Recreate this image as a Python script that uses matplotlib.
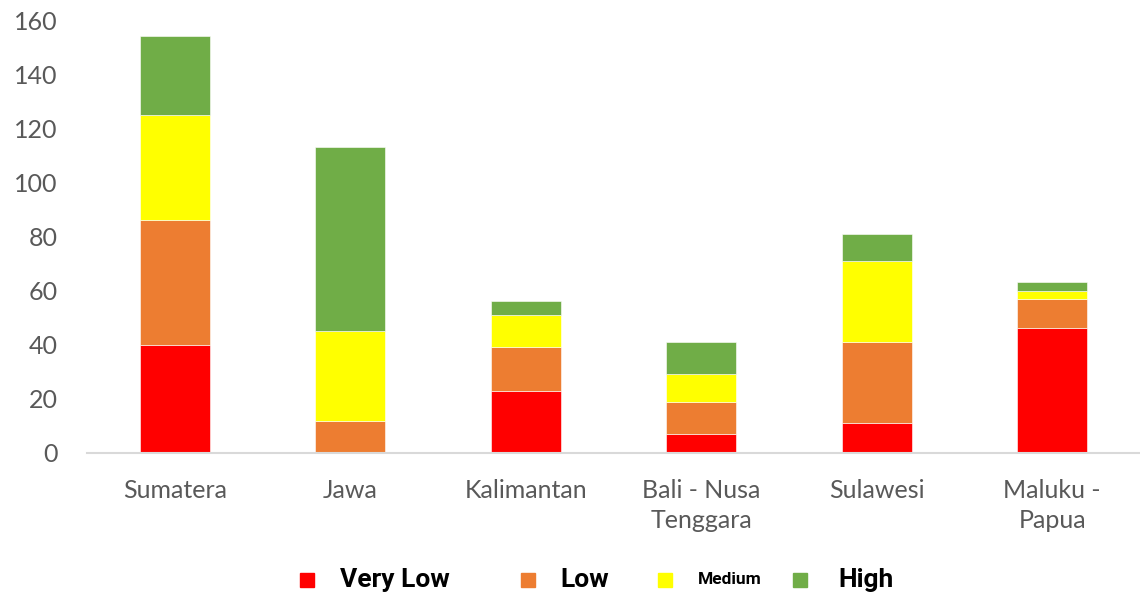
import numpy as np
import matplotlib.pyplot as plt
from matplotlib.patches import Rectangle

# Data
regions = ["Sumatera", "Jawa", "Kalimantan", "Bali - Nusa\nTenggara", "Sulawesi", "Maluku -\nPapua"]
very_low = [40, 0, 23, 7, 11, 46]
low = [46, 12, 16, 12, 30, 11]
medium = [39, 33, 12, 10, 30, 3]
high = [29, 68, 5, 12, 10, 3]

series = [("Very Low", very_low, "#FF0000", 19),
          ("Low", low, "#ED7D31", 19),
          ("Medium", medium, "#FFFF00", 12.5),
          ("High", high, "#70AD47", 19)]

tick_font = "Lato"
legend_font = ["Roboto", "DejaVu Sans"]

fig = plt.figure(figsize=(11.4, 6.01), dpi=100)
ax = fig.add_axes([0.0763, 0.2463, 0.9237, 0.7204])

x = np.arange(len(regions))
bottom = np.zeros(len(regions))
for name, vals, col, _ in series:
    ax.bar(x, vals, width=0.4, bottom=bottom, color=col,
           edgecolor="white", linewidth=0.4)
    bottom += np.array(vals)

ax.set_xlim(-0.5, len(regions) - 0.5)
ax.set_ylim(0, 160)
ax.set_yticks(np.arange(0, 161, 20))
ax.set_xticks(x)
ax.set_xticklabels(regions)

for s in ["top", "right", "left"]:
    ax.spines[s].set_visible(False)
ax.spines["bottom"].set_color("#d9d9d9")
ax.spines["bottom"].set_linewidth(1.5)

ax.tick_params(axis="both", length=0, colors="#595959", labelsize=18)
ax.tick_params(axis="y", pad=21)
ax.tick_params(axis="x", pad=19)
for lab in ax.get_xticklabels() + ax.get_yticklabels():
    lab.set_fontfamily(tick_font)
    lab.set_linespacing(1.35)

# legend, drawn by hand because each entry has its own text size
legend_x = [300, 521, 658, 793]
text_x = [340, 560, 698, 838]
ly = 580
for (name, _, col, fs), mx, tx in zip(series, legend_x, text_x):
    fig.patches.append(Rectangle((mx / 1140, (601 - ly - 7) / 601), 14 / 1140, 14 / 601,
                                 transform=fig.transFigure, color=col))
    fig.text(tx / 1140, (601 - ly) / 601, name, fontsize=fs, fontweight="bold",
             family=legend_font, va="center", ha="left", color="black")

fig.savefig("out.png", dpi=100)
